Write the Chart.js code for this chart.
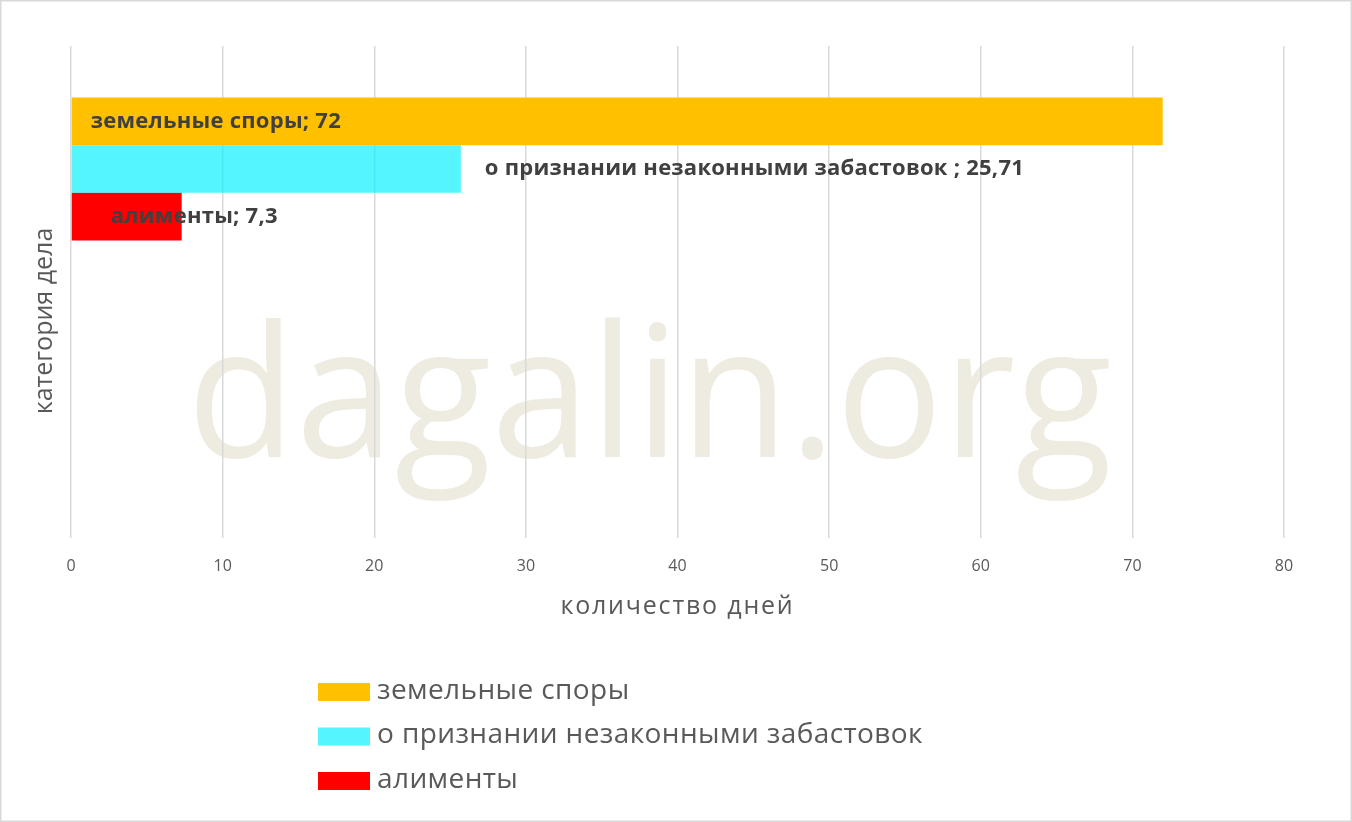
<!DOCTYPE html>
<html>
<head>
<meta charset="utf-8">
<script src="https://cdn.jsdelivr.net/npm/chart.js@4/dist/chart.umd.min.js"></script>
<style>
  html, body { margin: 0; padding: 0; background: #fff; overflow: hidden; }
  #wrap { width: 1352px; height: 822px; }
</style>
</head>
<body>
<div id="wrap"><canvas id="chart" width="1352" height="822"></canvas></div>
<script>
// categories (second one is empty in the source sheet)
var categories = ['', ''];
var seriesNames = ['земельные споры', 'о признании незаконными забастовок ', 'алименты'];
var landDisputes = [72, null];
var strikes = [25.71, null];
var alimony = [7.3, null];
var seriesColors = ['#FFC000', 'rgba(0,240,251,0.67)', '#FF0000'];
var xTicks = [0, 10, 20, 30, 40, 50, 60, 70, 80];

var textColor = '#595959';

// watermark behind everything, border + y title + legend on top
var backdrop = {
    id: 'backdrop',
    beforeDraw: function (chart) {
        var ctx = chart.ctx;
        ctx.save();
        ctx.fillStyle = '#EEEBE0';
        ctx.font = '184px "Open Sans"';
        ctx.textBaseline = 'alphabetic';
        ctx.textAlign = 'left';
        ctx.fillText('dagalin.org', 187, 457, 925);
        ctx.restore();
        ctx.letterSpacing = '1.8px'; // x axis title is spaced out
    },
    beforeDatasetsDraw: function (chart) {
        chart.ctx.letterSpacing = '0px';
    },
    afterDraw: function (chart) {
        var ctx = chart.ctx;
        ctx.save();
        ctx.letterSpacing = '0px';
        ctx.strokeStyle = '#D9D9D9';
        ctx.lineWidth = 1.5;
        ctx.strokeRect(0.75, 0.75, chart.width - 1.5, chart.height - 1.5);

        // y axis title
        ctx.translate(45, 321);
        ctx.rotate(-Math.PI / 2);
        ctx.fillStyle = textColor;
        ctx.font = '25px "Open Sans"';
        ctx.textAlign = 'center';
        ctx.textBaseline = 'middle';
        ctx.fillText('категория дела', 0, 0);
        ctx.restore();

        // legend, one item per line
        ctx.save();
        ctx.letterSpacing = '0.4px';
        ctx.font = '28px "Open Sans"';
        ctx.textBaseline = 'middle';
        chart.data.datasets.forEach(function (ds, i) {
            var y = 683 + i * 44.5;
            ctx.fillStyle = ds.backgroundColor;
            ctx.fillRect(318, y, 52, 18);
            ctx.fillStyle = textColor;
            ctx.fillText(ds.label.trim(), 377, y + 8);
        });
        ctx.restore();
    }
};

// data labels "name; value"
var labelPlace = [{from: 'base', dx: 19}, {from: 'end', dx: 24}, {from: 'base', dx: 39}];
var dataLabels = {
    id: 'dataLabels',
    afterDatasetsDraw: function (chart) {
        var ctx = chart.ctx;
        ctx.save();
        ctx.letterSpacing = '0.25px';
        ctx.font = 'bold 22px "Open Sans"';
        ctx.fillStyle = '#404040';
        ctx.textBaseline = 'middle';
        chart.data.datasets.forEach(function (ds, i) {
            var bar = chart.getDatasetMeta(i).data[0];
            var v = ds.data[0];
            var txt = ds.label + '; ' + String(v).replace('.', ',');
            var p = labelPlace[i];
            var x = (p.from === 'base' ? bar.base : bar.x) + p.dx;
            ctx.fillText(txt, x, bar.y);
        });
        ctx.restore();
    }
};

var ctx = document.getElementById('chart');
var chart = new Chart(ctx, {
    type: 'bar',
    data: {
        labels: categories,
        datasets: [
            {label: seriesNames[0], data: landDisputes, backgroundColor: seriesColors[0]},
            {label: seriesNames[1], data: strikes, backgroundColor: seriesColors[1]},
            {label: seriesNames[2], data: alimony, backgroundColor: seriesColors[2]}
        ]
    },
    options: {
        indexAxis: 'y',
        responsive: false,
        animation: false,
        categoryPercentage: 0.582,
        barPercentage: 1,
        layout: {padding: {left: 71, right: 68, top: 46, bottom: 203}},
        plugins: {
            legend: {display: false},
            tooltip: {enabled: false}
        },
        scales: {
            y: {display: false},
            x: {
                min: xTicks[0],
                max: xTicks[xTicks.length - 1],
                afterBuildTicks: function (axis) {
                    axis.ticks = xTicks.map(function (v) { return {value: v}; });
                },
                border: {display: false},
                grid: {color: '#D9D9D9', lineWidth: 1.5, drawTicks: false},
                ticks: {color: textColor, font: {family: 'Open Sans', size: 16, lineHeight: 1}, padding: 20, z: 1},
                title: {
                    display: true,
                    text: 'количество дней',
                    color: textColor,
                    font: {family: 'Open Sans', size: 25, lineHeight: 1},
                    padding: {top: 0, bottom: 0}
                }
            }
        }
    },
    plugins: [backdrop, dataLabels]
});
</script>
</body>
</html>
